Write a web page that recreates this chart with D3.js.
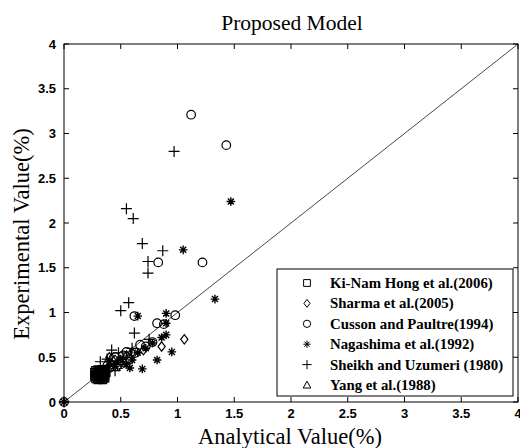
<!DOCTYPE html>
<html>
<head>
<meta charset="utf-8">
<script src="https://cdn.jsdelivr.net/npm/d3@7"></script>
<style>
  body { margin: 0; background: #fff; }
  svg { display: block; }
</style>
</head>
<body>
<script>
var w = 520, h = 448;
var margin = { left: 64, right: 1, top: 44, bottom: 46 };

var ticks = [0, 0.5, 1, 1.5, 2, 2.5, 3, 3.5, 4];
var tickLabels = ["0", "0.5", "1", "1.5", "2", "2.5", "3", "3.5", "4"];

// [analytical, experimental]
var hong = [[0.28,0.30],[0.29,0.33],[0.30,0.28],[0.31,0.35],[0.32,0.31],[0.33,0.29],[0.34,0.34],[0.35,0.32],
            [0.30,0.36],[0.36,0.35],[0.29,0.27],[0.33,0.36],[0.36,0.30],[0.31,0.32],[0.35,0.27],[0.37,0.33],
            [0.28,0.26],[0.30,0.25],[0.32,0.26],[0.34,0.25],[0.36,0.27],[0.27,0.29],[0.27,0.33],[0.29,0.31],
            [0.31,0.29],[0.33,0.32],[0.35,0.34],[0.32,0.34],[0.34,0.28],[0.30,0.33],[0.28,0.35],[0.36,0.32]];
var sharma = [[0.40,0.50],[0.45,0.47],[0.50,0.45],[0.55,0.52],[0.42,0.42],[0.60,0.55],[0.86,0.62],[1.06,0.70],
              [0.48,0.40],[0.70,0.58]];
var cusson = [[0,0],[1.12,3.21],[1.43,2.87],[0.83,1.56],[1.22,1.56],[0.62,0.96],[0.82,0.88],[0.98,0.97],
              [0.67,0.64],[0.78,0.67],[0.55,0.56],[0.45,0.50],[0.50,0.42],[0.58,0.48],[0.40,0.38],[0.63,0.55],
              [0.72,0.62],[0.52,0.52],[0.88,0.87]];
var nagashima = [[0,0],[1.47,2.24],[1.05,1.70],[1.33,1.15],[0.65,0.96],[0.90,0.99],[0.90,0.88],[0.90,0.75],
                 [0.86,0.72],[0.78,0.66],[0.95,0.56],[0.82,0.47],[0.69,0.37],[0.60,0.47],[0.55,0.42],[0.50,0.48],
                 [0.45,0.40],[0.65,0.55],[0.72,0.60],[0.40,0.45],[0.35,0.36],[0.58,0.38]];
var sheikh = [[0,0],[0.97,2.80],[0.55,2.16],[0.61,2.05],[0.69,1.77],[0.87,1.69],[0.74,1.57],[0.74,1.44],
              [0.57,1.11],[0.50,1.02],[0.62,0.77],[0.42,0.58],[0.48,0.55],[0.38,0.48],[0.52,0.45],[0.35,0.30],
              [0.45,0.35],[0.60,0.60],[0.40,0.40],[0.55,0.50],[0.75,0.70],[0.32,0.45]];
var yang = [[0.38,0.45],[0.42,0.50],[0.48,0.46]];

var names = ["Ki-Nam Hong et al.(2006)", "Sharma et al.(2005)", "Cusson and Paultre(1994)",
             "Nagashima et al.(1992)", "Sheikh and Uzumeri (1980)", "Yang et al.(1988)"];
var markers = ["square", "diamond", "circle", "star", "plus", "triangle"];
var series = [hong, sharma, cusson, nagashima, sheikh, yang];

var svg = d3.select("body").append("svg").attr("width", w).attr("height", h);

var x = d3.scaleLinear().domain([0, 4]).range([margin.left, w - margin.right - 1]);
var y = d3.scaleLinear().domain([0, 4]).range([h - margin.bottom, margin.top]);

function markerPath(type, s) {
    switch (type) {
        case "square": return "M" + (-s) + "," + (-s) + "h" + 2 * s + "v" + 2 * s + "h" + (-2 * s) + "Z";
        case "diamond": return "M0," + (-s * 1.3) + "L" + s + ",0L0," + (s * 1.3) + "L" + (-s) + ",0Z";
        case "circle": return d3.arc()({ innerRadius: 0, outerRadius: s, startAngle: 0, endAngle: 2 * Math.PI });
        case "plus": return "M" + (-s) + ",0H" + s + "M0," + (-s) + "V" + s;
        case "star":
            var d = s * 0.7;
            return "M" + (-s) + ",0H" + s + "M0," + (-s) + "V" + s +
                   "M" + (-d) + "," + (-d) + "L" + d + "," + d + "M" + (-d) + "," + d + "L" + d + "," + (-d);
        case "triangle": return "M0," + (-s) + "L" + s + "," + (s * 0.8) + "L" + (-s) + "," + (s * 0.8) + "Z";
    }
}
var markerSize = { square: 4, diamond: 3.6, circle: 4.3, star: 4.3, plus: 5.5, triangle: 4.5 };

// diagonal y = x
svg.append("line")
    .attr("x1", x(0)).attr("y1", y(0)).attr("x2", x(4)).attr("y2", y(4))
    .attr("stroke", "#333").attr("stroke-width", 0.9);

// points (unfilled markers)
series.forEach(function (data, i) {
    var m = markers[i];
    svg.append("g").selectAll("path").data(data).enter().append("path")
        .attr("transform", function (d) { return "translate(" + x(d[0]) + "," + y(d[1]) + ")"; })
        .attr("d", markerPath(m, markerSize[m]))
        .attr("fill", "none")
        .attr("stroke", "#000")
        .attr("stroke-width", m == "star" ? 1.4 : 1.2);
});

// axes box with inward ticks
var tickLen = 5;
var axes = svg.append("g").attr("stroke", "#000").attr("stroke-width", 1);
axes.append("rect")
    .attr("x", x(0)).attr("y", y(4)).attr("width", x(4) - x(0)).attr("height", y(0) - y(4))
    .attr("fill", "none");
ticks.forEach(function (t) {
    axes.append("line").attr("x1", x(t)).attr("x2", x(t)).attr("y1", y(0)).attr("y2", y(0) - tickLen);
    axes.append("line").attr("x1", x(t)).attr("x2", x(t)).attr("y1", y(4)).attr("y2", y(4) + tickLen);
    axes.append("line").attr("y1", y(t)).attr("y2", y(t)).attr("x1", x(0)).attr("x2", x(0) + tickLen);
    axes.append("line").attr("y1", y(t)).attr("y2", y(t)).attr("x1", x(4)).attr("x2", x(4) - tickLen);
});

var tickFont = "'Liberation Sans Narrow', 'Liberation Sans', Arial, sans-serif";
svg.append("g").selectAll("text").data(ticks).enter().append("text")
    .attr("x", function (d) { return x(d); })
    .attr("y", y(0) + 16)
    .attr("text-anchor", "middle")
    .attr("font-family", tickFont).attr("font-weight", "bold").attr("font-size", 13)
    .text(function (d, i) { return tickLabels[i]; });
svg.append("g").selectAll("text").data(ticks).enter().append("text")
    .attr("x", x(0) - 8)
    .attr("y", function (d) { return y(d) + 4.5; })
    .attr("text-anchor", "end")
    .attr("font-family", tickFont).attr("font-weight", "bold").attr("font-size", 13)
    .text(function (d, i) { return tickLabels[i]; });

var serif = "'Liberation Serif', 'Times New Roman', serif";
svg.append("text").attr("x", 292).attr("y", 30)
    .attr("text-anchor", "middle").attr("font-family", serif).attr("font-size", 21.5)
    .text("Proposed Model");
svg.append("text").attr("x", 290).attr("y", 444)
    .attr("text-anchor", "middle").attr("font-family", serif).attr("font-size", 22.5)
    .text("Analytical Value(%)");
svg.append("text")
    .attr("transform", "translate(29,234) rotate(-90)")
    .attr("text-anchor", "middle").attr("font-family", serif).attr("font-size", 22.5)
    .text("Experimental Value(%)");

// legend
var lg = svg.append("g");
lg.append("rect").attr("x", 277).attr("y", 269).attr("width", 236).attr("height", 127)
    .attr("fill", "#fff").attr("stroke", "#000").attr("stroke-width", 1);
names.forEach(function (n, i) {
    var yy = 283 + i * 20.4;
    var m = markers[i];
    lg.append("path")
        .attr("transform", "translate(307," + yy + ")")
        .attr("d", markerPath(m, markerSize[m] * 0.85))
        .attr("fill", "none").attr("stroke", "#000").attr("stroke-width", 1);
    lg.append("text").attr("x", 330).attr("y", yy + 5)
        .attr("font-family", serif).attr("font-weight", "bold").attr("font-size", 14.8)
        .text(n);
});
</script>
</body>
</html>
